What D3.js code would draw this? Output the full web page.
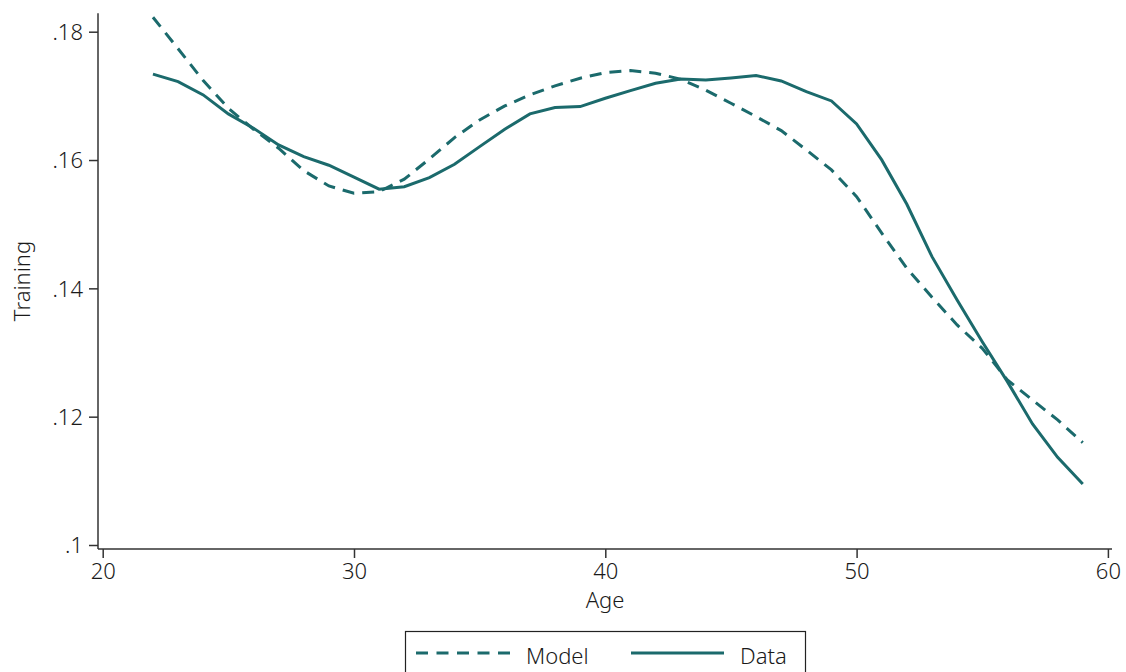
<!DOCTYPE html>
<html>
<head>
<meta charset="utf-8">
<script src="https://cdn.jsdelivr.net/npm/d3@7"></script>
<style>
  html, body { margin: 0; padding: 0; background: #fff; }
  svg { display: block; }
  text { font-family: "Noto Sans", "Open Sans", sans-serif; font-weight: 300; fill: #1a1a1a; }
</style>
</head>
<body>
<svg id="chart" width="1126" height="672"></svg>
<script>
// Training rate by age: structural model fit vs. observed data
const ages = d3.range(22, 60);
const modelValues = [
  .18226, .17735, .17238, .16807, .16480, .16184, .15835, .15596, .15482, .15508,
  .15701, .16017, .16349, .16625, .16843, .17015, .17155, .17275, .17363, .17394,
  .17353, .17259, .17088, .16885, .16677, .16459, .16158, .15846, .15430, .14862,
  .14313, .13861, .13430, .13066, .12572, .12260, .11949, .11595
];
const dataValues = [
  .17338, .17222, .17015, .16719, .16496, .16235, .16053, .15919, .15732, .15545,
  .15585, .15726, .15934, .16209, .16480, .16719, .16817, .16833, .16963, .17082,
  .17197, .17264, .17249, .17280, .17316, .17233, .17066, .16921, .16563, .16002,
  .15311, .14494, .13819, .13169, .12546, .11886, .11367, .10951
];
const xTicks = [20, 30, 40, 50, 60];
const yTicks = [.1, .12, .14, .16, .18];
const seriesNames = ["Model", "Data"];

const color = "#1b6a6c";
const svg = d3.select("#chart");

const x = d3.scaleLinear().domain([20, 60]).range([102.7, 1107.9]);
const y = d3.scaleLinear().domain([.1, .18]).range([545, 31.7]);

const fmt = v => d3.format(".2~f")(v).replace(/^0/, "");

// y axis
const yAxis = svg.append("g")
  .attr("transform", "translate(98,0)")
  .call(d3.axisLeft(y).tickValues(yTicks).tickFormat(fmt).tickSize(9).tickPadding(6).tickSizeOuter(0));
yAxis.select(".domain").attr("d", "M0,13.3V549").attr("stroke", "#333").attr("stroke-width", 1.5);
yAxis.selectAll(".tick line").attr("stroke", "#333").attr("stroke-width", 1.5);
yAxis.selectAll(".tick text").attr("font-size", 22).attr("fill", "#1a1a1a")
  .style("font-family", null).attr("dy", "0.35em");

// x axis
const xAxis = svg.append("g")
  .attr("transform", "translate(0,549)")
  .call(d3.axisBottom(x).tickValues(xTicks).tickFormat(d3.format("d")).tickSize(9).tickPadding(5).tickSizeOuter(0));
xAxis.select(".domain").attr("d", "M98,0H1112").attr("stroke", "#333").attr("stroke-width", 1.5);
xAxis.selectAll(".tick line").attr("stroke", "#333").attr("stroke-width", 1.5);
xAxis.selectAll(".tick text").attr("font-size", 22).attr("fill", "#1a1a1a").style("font-family", null);

// axis titles
svg.append("text")
  .attr("transform", "translate(30,281) rotate(-90)")
  .attr("text-anchor", "middle")
  .attr("font-size", 22)
  .text("Training");
svg.append("text")
  .attr("x", 605).attr("y", 608)
  .attr("text-anchor", "middle")
  .attr("font-size", 22)
  .text("Age");

// series lines
const line = d3.line().x((d, i) => x(ages[i])).y(d => y(d));
svg.append("path")
  .datum(modelValues)
  .attr("d", line)
  .attr("fill", "none")
  .attr("stroke", color)
  .attr("stroke-width", 3)
  .attr("stroke-dasharray", "12,8");
svg.append("path")
  .datum(dataValues)
  .attr("d", line)
  .attr("fill", "none")
  .attr("stroke", color)
  .attr("stroke-width", 3);

// legend
const legend = svg.append("g");
legend.append("rect")
  .attr("x", 405.5).attr("y", 631.5)
  .attr("width", 400).attr("height", 60)
  .attr("fill", "#fff").attr("stroke", "#222").attr("stroke-width", 1.2);
legend.append("line")
  .attr("x1", 416).attr("x2", 510).attr("y1", 653).attr("y2", 653)
  .attr("stroke", color).attr("stroke-width", 3).attr("stroke-dasharray", "12,8.5");
legend.append("text")
  .attr("x", 526).attr("y", 664).attr("font-size", 22).text(seriesNames[0]);
legend.append("line")
  .attr("x1", 631).attr("x2", 724).attr("y1", 653).attr("y2", 653)
  .attr("stroke", color).attr("stroke-width", 3);
legend.append("text")
  .attr("x", 740).attr("y", 664).attr("font-size", 22).text(seriesNames[1]);
</script>
</body>
</html>
